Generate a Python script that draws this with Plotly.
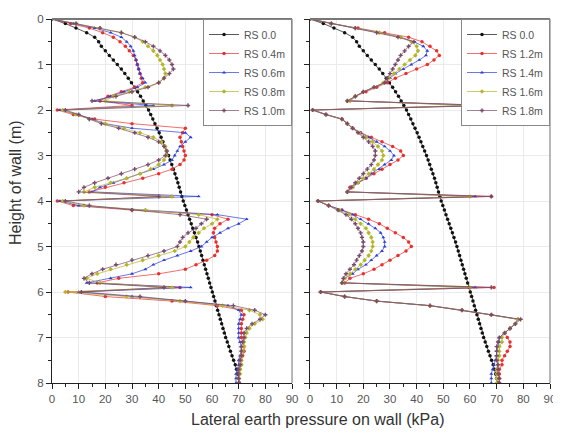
import plotly.graph_objects as go

# Depth below top of wall (m)
depth = [0.0, 0.1, 0.2, 0.3, 0.4, 0.5, 0.6, 0.7, 0.8, 0.9,
         1.0, 1.1, 1.2, 1.3, 1.4, 1.5, 1.6, 1.7, 1.8, 1.9,
         2.0, 2.1, 2.2, 2.3, 2.4, 2.5, 2.6, 2.7, 2.8, 2.9,
         3.0, 3.1, 3.2, 3.3, 3.4, 3.5, 3.6, 3.7, 3.8, 3.9,
         4.0, 4.1, 4.2, 4.3, 4.4, 4.5, 4.6, 4.7, 4.8, 4.9,
         5.0, 5.1, 5.2, 5.3, 5.4, 5.5, 5.6, 5.7, 5.8, 5.9,
         6.0, 6.1, 6.2, 6.3, 6.4, 6.5, 6.6, 6.7, 6.8, 6.9,
         7.0, 7.1, 7.2, 7.3, 7.4, 7.5, 7.6, 7.7, 7.8, 7.9, 8.0]

# Lateral earth pressure (kPa)
rs_00 = [0, 5, 9, 13, 16, 17.5, 18.5, 20, 21.5, 23,
         24.5, 26, 27.3, 28.6, 29.8, 31, 32.1, 33.2, 34.2, 35.2,
         36.2, 37, 37.8, 38.6, 39.4, 40.2, 40.9, 41.6, 42.3, 43,
         43.7, 44.3, 44.9, 45.5, 46.1, 46.7, 47.2, 47.7, 48.2, 48.7,
         49.2, 49.8, 50.4, 51, 51.6, 52.2, 52.8, 53.4, 54, 54.6,
         55.1, 55.6, 56.1, 56.6, 57.1, 57.6, 58.1, 58.6, 59.1, 59.6,
         60.1, 60.6, 61.1, 61.6, 62.1, 62.6, 63.1, 63.6, 64.1, 64.6,
         65.1, 65.7, 66.3, 66.9, 67.5, 68.1, 68.7, 69.2, 69.6, 70, 70.3]

# Left panel
rs_04 = [0, 7, 14, 19, 23, 25.5, 27.5, 29, 30.5, 31.5,
         32, 32.5, 33, 33.5, 34, 31, 26, 21, 18, 30,
         2, 8, 16, 30, 50, 49, 48, 48.5, 49, 49.5,
         50, 49.5, 48, 45, 40, 34, 27, 20, 14, 45,
         2, 8, 30, 60, 66, 63, 61, 60.5, 61, 61.5,
         62, 62, 61, 58, 54, 50, 40, 25, 17, 48,
         6, 20, 45, 62, 71, 72, 71.5, 71, 71, 71,
         71, 71.5, 72, 72, 71.5, 71, 71, 70.5, 70, 70, 70]
rs_06 = [0, 8, 16, 22, 26, 28, 29.5, 30.5, 31, 31.5,
         32, 32.5, 33, 34, 35, 32, 27, 22, 16, 38,
         3, 10, 15, 20, 30, 50, 52, 50, 48, 47,
         46, 45, 42, 38, 33, 28, 23, 18, 15, 55,
         3, 10, 35, 62, 73, 70, 66, 63, 60, 58,
         56, 52, 47, 42, 38, 35, 30, 22, 13, 52,
         10, 30, 50, 66, 70, 71, 70.5, 70, 70, 70,
         70, 70.5, 71, 71, 70.5, 70, 70, 69.5, 69, 69, 69]
rs_08 = [0, 9, 18, 26, 31, 34, 36, 38, 39.5, 40.5,
         41.5, 42, 42.5, 42, 40, 35, 29, 23, 20, 45,
         4, 9, 14, 20, 27, 33, 38, 41, 42.5, 43,
         43, 42, 40, 37, 33, 28, 22, 16, 12, 45,
         4, 12, 35, 55, 62, 60, 57, 55, 53, 51.5,
         50, 46, 40, 34, 28, 22, 17, 13, 18, 45,
         5, 28, 48, 64, 74, 78, 79, 76, 74, 73,
         72.5, 72, 72, 71.5, 71, 71, 71, 70.5, 70.5, 70, 70]
rs_10 = [0, 9, 18, 26, 31, 35, 38, 40.5, 42.5, 44,
         45, 45.5, 44, 42, 40, 36, 30, 24, 15, 51,
         5, 10, 14, 18.5, 25, 31, 36, 40, 42, 43,
         42.5, 40, 36, 31, 26, 21, 16, 12, 10, 40,
         5, 14, 30, 48, 58, 56, 54, 51, 49, 48,
         47, 42, 36, 30, 24, 19, 15, 12, 14, 42,
         11, 33, 50, 68, 76, 80, 78, 75, 73, 72,
         72, 71.5, 71, 71, 71, 70.5, 70.5, 70, 70, 70, 70]

# Right panel
rs_12 = [0, 8, 18, 28, 37, 42, 45, 47.5, 48.5, 46.5,
         44, 40, 36, 32, 29, 25, 21, 17, 14, 66,
         1, 6, 12, 14, 16, 19, 23, 27, 31, 34,
         35, 33, 30, 27, 24, 21, 18, 15, 14, 68,
         3, 7, 12, 17, 22, 26, 29, 32, 35, 37,
         38, 36, 33, 30, 27, 24, 20, 15, 13, 69,
         4, 13, 25, 45, 57, 68, 78, 77, 75, 73,
         74, 75, 75, 74, 73, 72, 72, 71, 71, 71, 71]
rs_14 = [0, 8, 17, 26, 34, 39, 42.5, 44, 43.5, 41,
         38, 35, 32, 30, 28, 24, 20, 17, 15, 62,
         1, 6, 12, 14, 16, 19, 22, 25, 28, 30,
         31.5, 30.5, 28, 26, 23, 21, 18, 16, 14, 62,
         3, 7, 12, 16, 19, 22, 24.5, 26.5, 27.5, 28,
         28, 27, 25, 23, 21, 18, 16, 13, 12, 62,
         4, 13, 25, 45, 57, 68, 78, 77, 75, 73,
         71, 71, 70.5, 70, 70, 69.5, 69, 68.5, 68, 68, 68]
rs_16 = [0, 8, 17, 26, 34, 38, 40, 40.5, 39.5, 37.5,
         35.5, 33.5, 31.5, 29.5, 27.5, 24, 20, 17, 15, 60,
         1, 6, 12, 14, 16, 18.5, 21, 23.5, 25.5, 27,
         27.5, 27, 25.5, 24, 22, 20, 18, 16, 14, 60,
         3, 7, 11, 14.5, 17, 19, 21, 22, 23, 23.5,
         23.5, 23, 22, 20.5, 19, 17, 15, 13, 12, 60,
         4, 13, 25, 45, 57, 68, 78, 77, 75, 73,
         72, 72, 71, 71, 71, 70.5, 70.5, 70, 70, 70, 70]
rs_18 = [0, 8, 17, 25, 33, 39, 37, 35.5, 34, 33,
         32, 31, 30, 29, 28, 24, 20, 17, 14, 68,
         1, 6, 12, 14, 16, 18, 20, 22, 23.5, 24.5,
         24.5, 24, 23, 21.5, 20, 18.5, 17, 15.5, 14, 68,
         3, 7, 10.5, 13.5, 15.5, 17, 18, 19, 19.5, 20,
         20, 19.5, 18.5, 17.5, 16.5, 15, 13.5, 12.5, 12, 68,
         4, 13, 25, 45, 57, 68, 79, 77, 75, 73,
         71, 70.5, 70, 70, 70, 70, 70.5, 70.5, 70.5, 71, 71]

x_ticks = [0, 10, 20, 30, 40, 50, 60, 70, 80, 90]
y_ticks = [0, 1, 2, 3, 4, 5, 6, 7, 8]

left_series = [("RS 0.0", rs_00), ("RS 0.4m", rs_04), ("RS 0.6m", rs_06),
               ("RS 0.8m", rs_08), ("RS 1.0m", rs_10)]
right_series = [("RS 0.0", rs_00), ("RS 1.2m", rs_12), ("RS 1.4m", rs_14),
                ("RS 1.6m", rs_16), ("RS 1.8m", rs_18)]

colors = ["#111111", "#e8302e", "#2b3fd6", "#b5b52a", "#7a4a6a"]
symbols = ["circle", "circle", "triangle-up", "diamond", "cross"]
sizes = [3.5, 3.5, 3.5, 3.5, 3.5]

fig = go.Figure()
for i, (name, vals) in enumerate(left_series):
    fig.add_trace(go.Scatter(
        x=vals, y=depth, name=name, mode="lines+markers",
        line=dict(color=colors[i], width=0.7),
        marker=dict(color=colors[i], size=sizes[i], symbol=symbols[i]),
        xaxis="x", yaxis="y", legend="legend"))
for i, (name, vals) in enumerate(right_series):
    fig.add_trace(go.Scatter(
        x=vals, y=depth, name=name, mode="lines+markers",
        line=dict(color=colors[i], width=0.7),
        marker=dict(color=colors[i], size=sizes[i], symbol=symbols[i]),
        xaxis="x2", yaxis="y2", legend="legend2"))

FONT = "Arial, Liberation Sans, sans-serif"
tickfont = dict(family=FONT, size=11.5, color="#555555")

def xax(domain, anchor):
    return dict(domain=domain, anchor=anchor, range=[0, 90], tickvals=x_ticks,
                ticktext=[str(v) for v in x_ticks], ticks="outside", ticklen=5,
                tickcolor="#222", tickwidth=1, showline=True, linecolor="#222",
                linewidth=1, showgrid=True, gridcolor="#ebebeb", gridwidth=1,
                zeroline=False, tickfont=tickfont, ticklabeloverflow="allow",
                minor=dict(dtick=5, ticks="outside", ticklen=3, tickcolor="#222",
                           showgrid=False))

def yax(anchor, labels):
    return dict(domain=[0, 1], anchor=anchor, range=[8, 0], tickvals=y_ticks,
                ticktext=[str(v) for v in y_ticks], showticklabels=labels,
                ticks="outside", ticklen=5, tickcolor="#222", tickwidth=1,
                showline=True, linecolor="#222", linewidth=1, showgrid=True,
                gridcolor="#ebebeb", gridwidth=1, zeroline=False, tickfont=tickfont,
                ticklabeloverflow="allow",
                minor=dict(dtick=0.5, ticks="outside", ticklen=3, tickcolor="#222",
                           showgrid=False))

legend_style = dict(font=dict(family=FONT, size=10.5, color="#555555"),
                    bgcolor="white", bordercolor="#888888", borderwidth=1,
                    yanchor="top", y=1, xanchor="right", tracegroupgap=0,
                    itemwidth=30)

# the page body adds an 8 px offset, so the figure is 8 px smaller on each side
fig.update_layout(
    width=553, height=431,
    margin=dict(l=44, r=7, t=5, b=56),
    paper_bgcolor="white", plot_bgcolor="white",
    xaxis=xax([0, 0.482], "y"),
    yaxis=yax("x", True),
    xaxis2=xax([0.518, 1], "y2"),
    yaxis2=yax("x2", False),
    legend=dict(x=0.482, **legend_style),
    legend2=dict(x=1.0, **legend_style),
    showlegend=True,
    annotations=[
        dict(text="Lateral earth pressure on wall (kPa)", xref="paper", yref="paper",
             x=0.534, y=-0.1, showarrow=False, xanchor="center", yanchor="middle",
             font=dict(family=FONT, size=16, color="#333333")),
        dict(text="Height of wall (m)", xref="paper", yref="paper",
             x=-0.072, y=0.55, showarrow=False, textangle=-90,
             xanchor="center", yanchor="middle",
             font=dict(family=FONT, size=16, color="#333333")),
    ],
    shapes=[
        dict(type="line", xref="x domain", yref="y domain", x0=0, x1=1, y0=1, y1=1,
             line=dict(color="#777777", width=2)),
        dict(type="line", xref="x domain", yref="y domain", x0=1, x1=1, y0=0, y1=1,
             line=dict(color="#888888", width=1.2)),
        dict(type="line", xref="x2 domain", yref="y2 domain", x0=0, x1=1, y0=1, y1=1,
             line=dict(color="#777777", width=2)),
        dict(type="line", xref="x2 domain", yref="y2 domain", x0=1, x1=1, y0=0, y1=1,
             line=dict(color="#888888", width=1.2)),
    ],
)

fig.write_html("out.html")
